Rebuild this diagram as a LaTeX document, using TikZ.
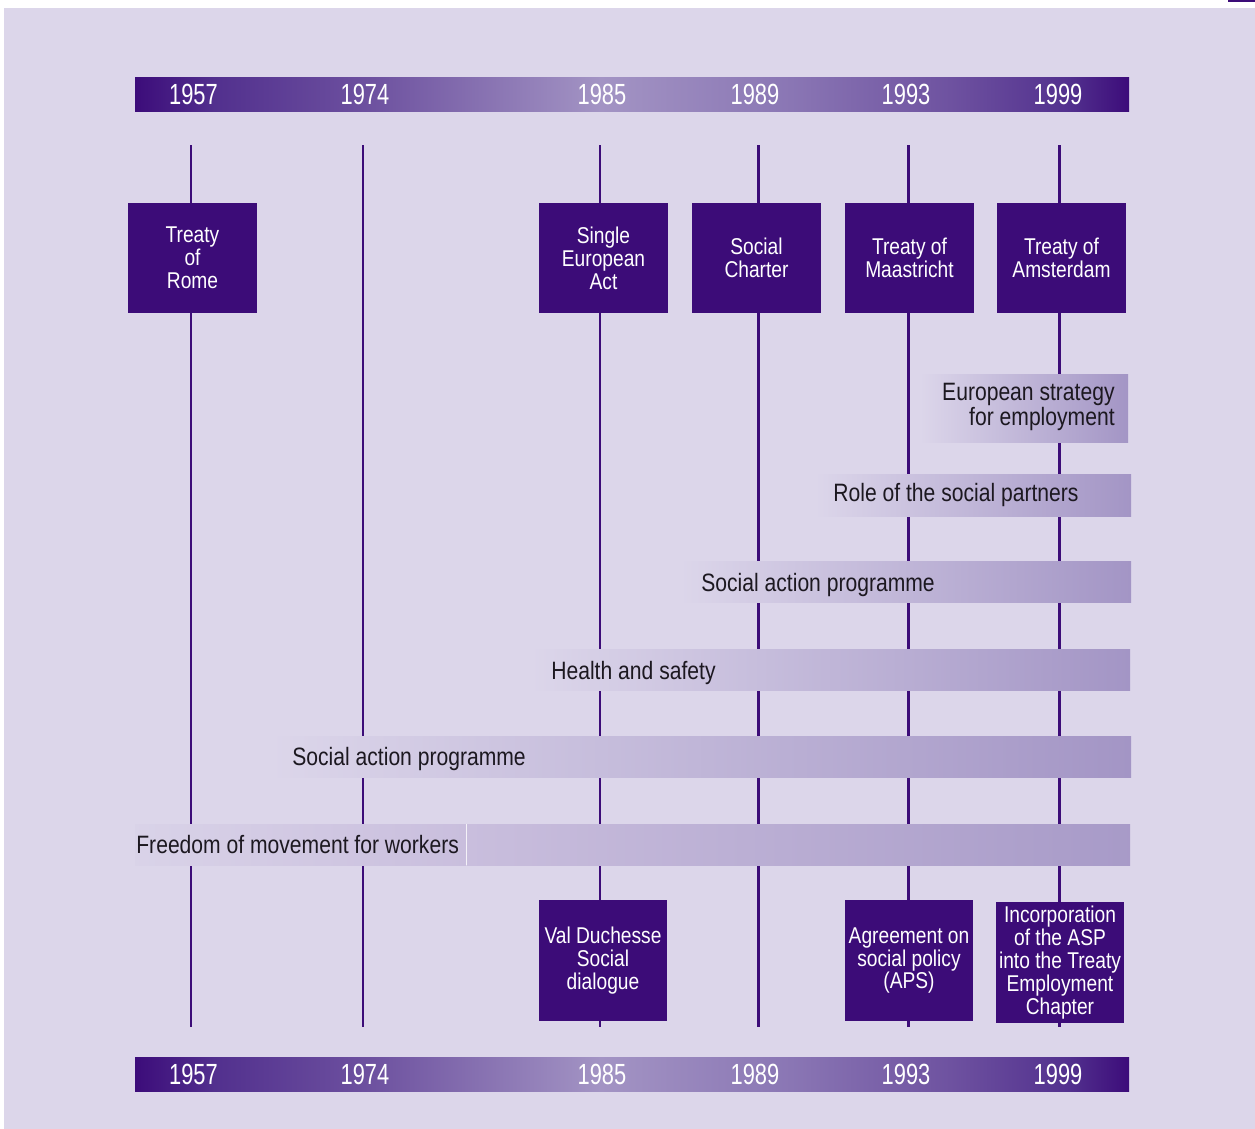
\documentclass[tikz,border=0pt]{standalone}
\usepackage{fontspec}
\setmainfont[FakeStretch=0.84]{Liberation Sans}
\newfontfamily\yearfont[FakeStretch=0.75]{Liberation Sans}
\definecolor{paper}{RGB}{220,214,234}
\definecolor{deeppurple}{RGB}{60,12,120}
\definecolor{bandend}{RGB}{163,149,197}
\definecolor{bandmid}{RGB}{201,190,221}
\definecolor{bandtext}{RGB}{28,24,32}
\definecolor{barA}{RGB}{60,12,122}
\definecolor{barB}{RGB}{82,48,142}
\definecolor{barC}{RGB}{110,82,160}
\definecolor{barD}{RGB}{163,148,196}
\definecolor{barE}{RGB}{138,118,180}
\pgfdeclarehorizontalshading{yearbar}{100bp}{color(0bp)=(barA); color(25bp)=(barA);
  color(29bp)=(barB); color(37bp)=(barC); color(48.4bp)=(barD); color(58bp)=(barE);
  color(66bp)=(barC); color(72bp)=(barB); color(75bp)=(barA); color(100bp)=(barA)}
\tikzset{
  event/.style={fill=deeppurple,text=white,inner sep=0pt,minimum width=2.58cm,
    minimum height=2.2cm,align=center,font=\fontsize{13}{13}\selectfont},
  yearline/.style={draw=deeppurple,line width=1.7pt},
  band/.style={left color=paper,right color=bandend},
  bandlabel/.style={text=bandtext,inner sep=0pt,font=\fontsize{14.3}{14.2}\selectfont},
  yearlabel/.style={text=white,inner sep=0pt,font=\yearfont\fontsize{16.6}{16.6}\selectfont},
}
\begin{document}
\begin{tikzpicture}[x=0.02cm,y=-0.02cm]
  \useasboundingbox (0,0) rectangle (1255,1129);
  \fill[white] (0,0) rectangle (1255,1129);
  \fill[paper] (4,8) rectangle (1255,1129);
  \fill[deeppurple] (1228,0) rectangle (1255,2);
  % year lines
  \foreach \yr/\xx in {1957/191,1974/363,1985/600,1989/758,1993/908,1999/1059}{
    \coordinate (top\yr) at (\xx,145);
    \coordinate (bot\yr) at (\xx,1027);
    \draw[yearline] (top\yr) -- (bot\yr);
  }
  % treaties
  \node[event] (rome) at (192.5,258) {Treaty\\of\\Rome};
  \node[event] (sea) at (603.5,258) {Single\\European\\Act};
  \node[event] (charter) at (756.5,258) {Social\\Charter};
  \node[event] (maastricht) at (909.5,258) {Treaty of\\Maastricht};
  \node[event] (amsterdam) at (1061.5,258) {Treaty of\\Amsterdam};
  \node[event,minimum height=2.42cm] (duchesse) at (603,960.5) {Val Duchesse\\Social\\dialogue};
  \node[event,minimum height=2.42cm] (aps) at (909,960.5) {Agreement on\\social policy\\(APS)};
  \node[event,minimum height=2.42cm,minimum width=2.56cm] (asp) at (1060,962.5)
    {Incorporation\\of the ASP\\into the Treaty\\Employment\\Chapter};
  % bands
  \shade[band] (920,374) rectangle (1128,442);
  \node[bandlabel,align=right,anchor=east] (strategy) at (1115,407) {European strategy\\for employment};
  \shade[band] (815,474) rectangle (1131,516);
  \node[bandlabel,anchor=base west] (partners) at (833,501) {Role of the social partners};
  \shade[band] (680,561) rectangle (1131,602);
  \node[bandlabel,anchor=base west] (sap2) at (701,591) {Social action programme};
  \shade[band] (530,649) rectangle (1130,690);
  \node[bandlabel,anchor=base west] (health) at (551,679) {Health and safety};
  \shade[band] (270,736) rectangle (1131,777);
  \node[bandlabel,anchor=base west] (sap1) at (292,765) {Social action programme};
  \shade[left color=paper!95!bandend,right color=bandmid] (135,824) rectangle (466,865);
  \shade[left color=bandmid,right color=bandend!95!white] (467,824) rectangle (1130,865);
  \draw[white!80!bandmid,line width=0.5pt] (466.5,824) -- (466.5,865);
  \node[bandlabel,anchor=base west] (freedom) at (136,853) {Freedom of movement for workers};
  % year bars
  \shade[shading=yearbar] (135,77) rectangle (1129,111);
  \shade[shading=yearbar] (135,1057) rectangle (1129,1091);
  \foreach \yr/\xx in {1957/193.5,1974/365,1985/602,1989/755,1993/906,1999/1058}{
    \node[yearlabel] (up\yr) at (\xx,94.5) {\yr};
    \node[yearlabel] (down\yr) at (\xx,1074) {\yr};
  }
\end{tikzpicture}
\end{document}
